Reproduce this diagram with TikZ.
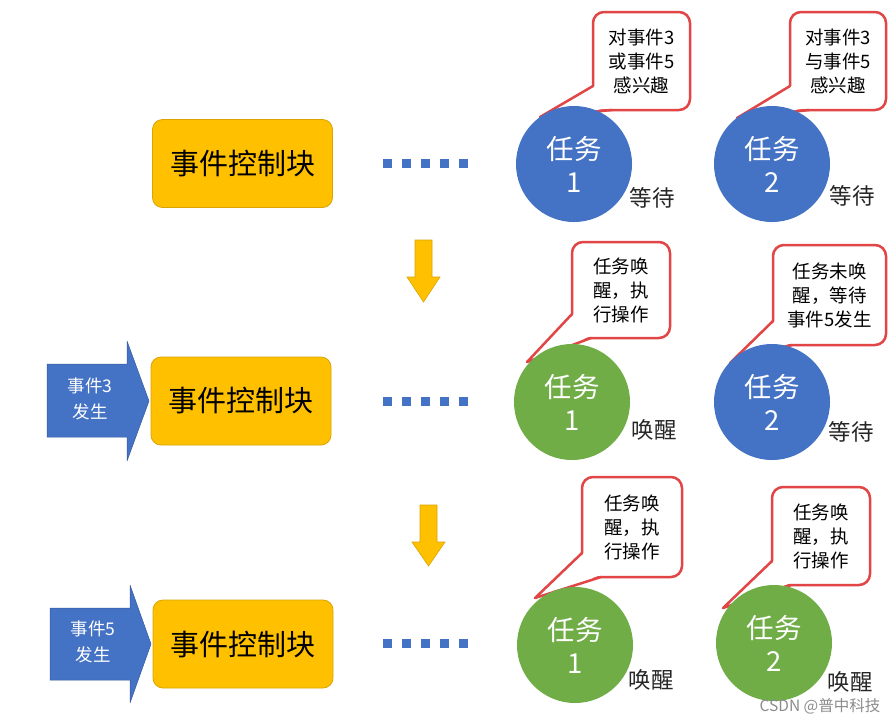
\documentclass[tikz,border=0pt]{standalone}
\usepackage{fontspec}
\setmainfont{Noto Sans CJK SC}
\definecolor{ecy}{HTML}{FFC000}
\definecolor{ecyb}{HTML}{D9A400}
\definecolor{tblue}{HTML}{4472C4}
\definecolor{tgreen}{HTML}{70AD47}
\definecolor{cred}{HTML}{E24545}
\tikzset{
  ecblock/.style={draw=ecyb, line width=0.8pt, fill=ecy, rounded corners=10pt,
    minimum width=180pt, minimum height=88pt, inner sep=0pt,
    font=\fontsize{29}{32}\selectfont},
  task/.style={circle, minimum size=116pt, inner sep=0pt, text=white, align=center,
    font=\fontsize{27.5}{33}\selectfont},
  tblue/.style={task, fill=tblue},
  tgreen/.style={task, fill=tgreen},
  state/.style={font=\fontsize{22.5}{24}\selectfont, text=black!85, inner sep=0pt},
  callout/.style={draw=cred, line width=2.5pt, fill=white, rounded corners=11pt,
    align=center, inner sep=0pt, font=\fontsize{18.5}{24}\selectfont},
  tail/.style={draw=cred, line width=2.5pt, line join=round, line cap=round},
  dotsq/.style={fill=tblue, minimum size=9pt, inner sep=0pt},
  downarrow/.style={fill=ecy, draw=ecyb, line width=0.6pt},
  evarrow/.style={fill=tblue, draw=tblue!80!black, line width=0.5pt, line join=round},
  evtext/.style={text=white, align=center, inner sep=0pt, font=\fontsize{17.5}{26}\selectfont}
}
% callout: name, x1, y1, x2, y2, tipx, tipy, text
\newcommand\mkcallout[8]{%
  \node[callout, minimum width={(#4-#2)*1pt}, minimum height={(#5-#3)*1pt}]
    (#1) at ({(#2+#4)/2},{(#3+#5)/2}) {#8};
  \coordinate (#1tip) at (#6,#7);
  \fill[white] (#1tip) -- ({#2+2},{#5-24}) -- ({#2+19},{#5-2}) -- cycle;
  \draw[tail] ({#2},{#5-24}) -- (#1tip) -- ({#2+19},{#5});
}
% dots row: name prefix, y
\newcommand\mkdots[2]{%
  \foreach \i/\xx in {1/387,2/406,3/425,4/444,5/463}
    \node[dotsq] (#1\i) at (\xx,#2) {};
}
\begin{document}
\begin{tikzpicture}[x=1pt,y=-1pt]
\useasboundingbox (0,0) rectangle (889,721);
\fill[white] (0,0) rectangle (889,721);

% ---------- Row 1 ----------
\node[ecblock] (ec1) at (242.5,163.5) {事件控制块};
\mkdots{da}{163}
\mkcallout{c11}{593}{12}{690}{110}{540}{117}{对事件3\\或事件5\\感兴趣}
\mkcallout{c12}{790}{12}{886}{110}{737}{118}{对事件3\\与事件5\\感兴趣}
\node[tblue] (t11) at (574,164) {任务\\1};
\node[tblue] (t12) at (772,164) {任务\\2};
\node[state] (s11) at (652,198) {等待};
\node[state] (s12) at (852,196) {等待};

% down arrow 1
\draw[downarrow] (415,240) -- (432,240) -- (432,277) -- (440,277) -- (423.5,302)
  -- (407,277) -- (415,277) -- cycle;

% ---------- Row 2 ----------
\draw[evarrow] (47,364) -- (127,364) -- (127,341) -- (149,401) -- (127,461)
  -- (127,437) -- (47,437) -- cycle;
\node[evtext] (ev3) at (90,399) {事件3\\发生};
\node[ecblock] (ec2) at (241,401) {事件控制块};
\mkdots{db}{401}
\mkcallout{c21}{572}{242}{670}{338}{527}{362}{任务唤\\醒，执\\行操作}
\mkcallout{c22}{773}{245}{886}{345}{730}{363}{任务未唤\\醒，等待\\事件5发生}
\node[tgreen] (t21) at (572,402) {任务\\1};
\node[tblue] (t22) at (772,402) {任务\\2};
\node[state] (s21) at (654,430) {唤醒};
\node[state] (s22) at (851,432) {等待};

% down arrow 2
\draw[downarrow] (420,505) -- (437,505) -- (437,542) -- (445,542) -- (428.5,566)
  -- (412,542) -- (420,542) -- cycle;

% ---------- Row 3 ----------
\draw[evarrow] (50,608) -- (130,608) -- (130,585) -- (151,644) -- (130,703)
  -- (130,680) -- (50,680) -- cycle;
\node[evtext] (ev5) at (93,642) {事件5\\发生};
\node[ecblock] (ec3) at (243,644) {事件控制块};
\mkdots{dc}{643}
\mkcallout{c31}{582}{477}{682}{577}{535}{598}{任务唤\\醒，执\\行操作}
\mkcallout{c32}{772}{487}{870}{585}{723}{608}{任务唤\\醒，执\\行操作}
\node[tgreen] (t31) at (575,645) {任务\\1};
\node[tgreen] (t32) at (774,643) {任务\\2};
\node[state] (s31) at (651,680) {唤醒};
\node[state] (s32) at (850,682) {唤醒};

% watermark
\node[text=black!45, inner sep=0pt, font=\fontsize{15.5}{16}\selectfont] (wm) at (820,706) {CSDN @普中科技};
\end{tikzpicture}
\end{document}
